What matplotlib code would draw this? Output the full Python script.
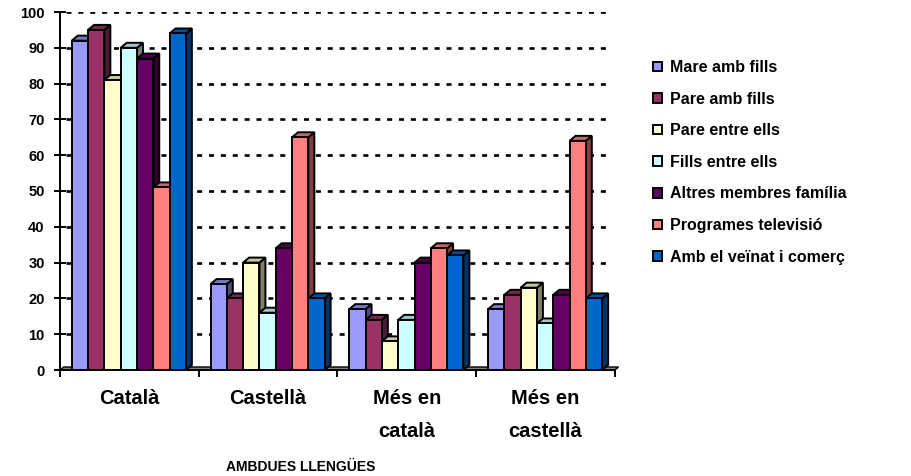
import matplotlib.pyplot as plt
from matplotlib.patches import Polygon
from matplotlib.colors import to_rgb
import numpy as np

plt.rcParams['font.family'] = ['Liberation Sans', 'DejaVu Sans']
plt.rcParams['font.weight'] = 'bold'

categories = ["Català", "Castellà", "Més en\ncatalà", "Més en\ncastellà"]
series_names = ["Mare amb fills", "Pare amb fills", "Pare entre ells", "Fills entre ells",
                "Altres membres família", "Programes televisió", "Amb el veïnat i comerç"]
mare_amb_fills = [92, 24, 17, 17]
pare_amb_fills = [95, 20, 14, 21]
pare_entre_ells = [81, 30, 8, 23]
fills_entre_ells = [90, 16, 14, 13]
altres_membres = [87, 34, 30, 21]
programes_tv = [51, 65, 34, 64]
veinat_comerc = [94, 20, 32, 20]
series_values = [mare_amb_fills, pare_amb_fills, pare_entre_ells, fills_entre_ells,
                 altres_membres, programes_tv, veinat_comerc]
colors = ["#9999FF", "#993366", "#FFFFCC", "#CCFFFF", "#660066", "#FF8080", "#0066CC"]
yticks = [0, 10, 20, 30, 40, 50, 60, 70, 80, 90, 100]
axis_title = "AMBDUES LLENGÜES"

fig = plt.figure(figsize=(9.11, 4.76), dpi=100)
ax = fig.add_axes([60 / 911, 106 / 476, 555 / 911, 358 / 476])

n_cat = len(categories)
w = 0.1175       # bar width (category units)
start = 0.085    # gap before first bar of group
dx, dy = 0.043, 1.4  # 3d depth offset
lw = 1.4

def shade(c, f):
    r, g, b = to_rgb(c)
    return (r * f, g * f, b * f)

# back-wall gridlines
ax.hlines(yticks[1:], dx, n_cat - 0.02, colors='black', linewidth=1.9,
          linestyles=(0, (1.9, 2.6)), zorder=0)

# floor slab
ax.add_patch(Polygon([(0, 0), (n_cat, 0), (n_cat + dx * 0.6, dy * 0.6), (dx * 0.6, dy * 0.6)],
                     closed=True, facecolor='#808080', edgecolor='black', lw=1.0,
                     zorder=1, clip_on=False))

z = 2
for i, (name, vals, col) in enumerate(zip(series_names, series_values, colors)):
    xs = np.arange(n_cat) + start + i * w
    for x, v in zip(xs, vals):
        side = [(x + w, 0), (x + w + dx, dy), (x + w + dx, v + dy), (x + w, v)]
        top = [(x, v), (x + dx, v + dy), (x + w + dx, v + dy), (x + w, v)]
        ax.add_patch(Polygon(side, closed=True, facecolor=shade(col, 0.5),
                             edgecolor='black', lw=lw, zorder=z + 0.1 * i, clip_on=False))
        ax.add_patch(Polygon(top, closed=True, facecolor=shade(col, 0.78),
                             edgecolor='black', lw=lw, zorder=z + 0.1 * i, clip_on=False))
    ax.bar(xs, vals, width=w, align='edge', color=col, edgecolor='black', lw=lw,
           label=name, zorder=z + 0.1 * i + 0.05)

ax.set_xlim(0, n_cat)
ax.set_ylim(0, 100)
ax.set_yticks(yticks)
ax.set_yticklabels([str(t) for t in yticks], fontsize=10.5, fontweight='bold')
ax.tick_params(axis='y', direction='inout', length=8, width=1.4, pad=7)

ax.set_xticks(np.arange(n_cat + 1))
ax.set_xticklabels([])
ax.tick_params(axis='x', which='major', direction='out', length=5, width=1.4)
ax.set_xticks(np.arange(n_cat) + 0.5, minor=True)
ax.set_xticklabels(categories, minor=True, fontsize=14.5, fontweight='bold', linespacing=1.9)
ax.tick_params(axis='x', which='minor', length=0, pad=14)

for s in ['top', 'right']:
    ax.spines[s].set_visible(False)
ax.spines['left'].set_linewidth(1.4)
ax.spines['bottom'].set_linewidth(1.4)

fig.text(301 / 911, 1 - 467 / 476, axis_title, ha='center', va='center',
         fontsize=10, fontweight='bold')

fig.legend(loc='upper left', bbox_to_anchor=(653 / 911, 1 - 60 / 476), frameon=False,
           fontsize=11.5, handlelength=0.55, handleheight=0.55, handletextpad=0.5,
           labelspacing=1.04, borderpad=0, borderaxespad=0)

fig.savefig('out.png', dpi=100)
